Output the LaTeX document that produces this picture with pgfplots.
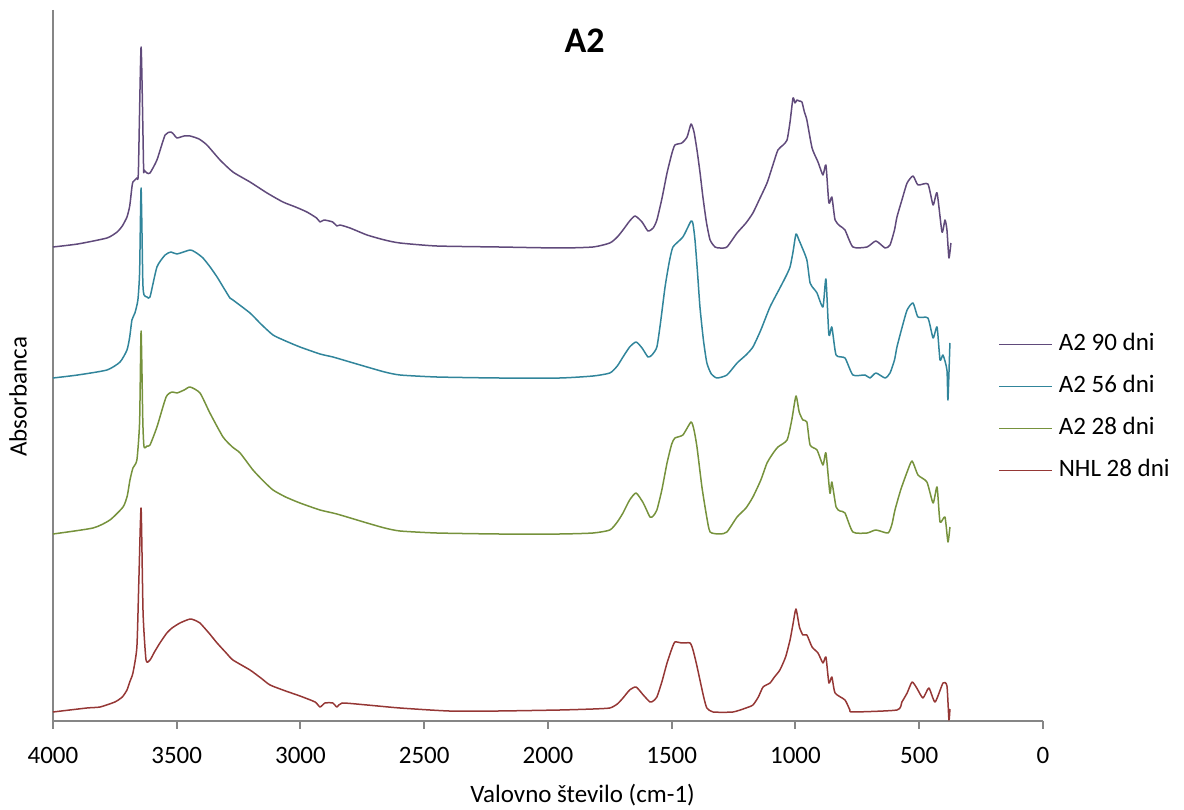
\documentclass[border=0pt]{standalone}
\usepackage{fontspec}
\setmainfont{Carlito}
\usepackage{pgfplots}
\pgfplotsset{compat=1.18}
\definecolor{cPurple}{RGB}{96,74,123}
\definecolor{cTeal}{RGB}{49,133,155}
\definecolor{cGreen}{RGB}{118,146,60}
\definecolor{cRed}{RGB}{149,55,53}
\definecolor{axgray}{RGB}{134,134,134}
\begin{document}
\begin{tikzpicture}[x=1pt,y=1pt]
\useasboundingbox (0,0) rectangle (592,404.5);
\begin{axis}[
  at={(26.5pt,44pt)}, anchor=south west,
  scale only axis, width=495pt, height=355.5pt,
  xmin=0, xmax=4000, x dir=reverse, ymin=-9, ymax=702,
  axis line style={draw=none},
  xtick={0,500,...,4000}, ytick=\empty,
  xtick pos=bottom, tick align=outside, major tick length=4pt,
  tick style={axgray, line width=1pt},
  /pgf/number format/assume math mode=true,
  /pgf/number format/1000 sep={},
  xticklabel style={font=\fontsize{12.5}{15}\selectfont, yshift=-5.5pt},
  xlabel={Valovno število (cm-1)},
  xlabel style={at={(axis description cs:0.535,-0.104)}, anchor=center, font=\fontsize{12.5}{15}\selectfont},
  ylabel={Absorbanca},
  ylabel style={at={(axis description cs:-0.0354,0.456)}, anchor=center, rotate=0, font=\fontsize{12.5}{15}\selectfont},
  title={\textbf{A2}},
  title style={at={(axis description cs:0.537,0.9395)}, anchor=center, font=\fontsize{18}{22}\selectfont},
  legend style={at={(axis description cs:0.9545,0.547)}, anchor=north west, draw=none, fill=none, inner sep=0pt, row sep=9pt,
    font=\fontsize{12.5}{15}\selectfont, nodes={text height=9pt, text depth=3pt, inner ysep=0pt, inner xsep=3pt}},
  legend cell align=left,
  legend image code/.code={\draw[#1] (-3pt,0pt) -- (23.5pt,0pt);},
  every axis plot/.append style={line width=0.75pt, line join=round, smooth, tension=0.35},
  clip=false,
]
\draw[axgray, line width=1pt] (axis description cs:0,1) -- (axis description cs:0,0) -- (axis description cs:1,0);
\addplot[cPurple] table {
4000 465
3900 468
3782 474
3741 480
3720 486
3701 495
3690 506
3681 525
3677 530
3661 534
3655 540
3644 665
3634 545
3632 542
3620 539
3608 539
3580 552
3547 577
3523 580
3510 577
3499 574
3470 576
3446 576
3410 573
3378 567
3325 552
3273 540
3204 530
3135 519
3071 510
3020 505
2974 500
2935 494
2921 490
2905 492
2870 490
2853 486
2840 487
2800 484
2731 477
2660 472
2598 469
2450 466
2200 465
1952 464
1818 465
1750 469
1720 475
1697 482
1670 491
1648 496
1620 490
1596 481
1575 484
1560 492
1540 513
1519 539
1500 558
1487 567
1459 569
1438 575
1422 588
1410 580
1398 562
1386 540
1374 515
1360 490
1345 472
1325 465
1305 464
1277 465
1236 479
1200 489
1172 499
1145 513
1115 529
1090 548
1071 562
1050 567
1034 572
1022 590
1010 614
1002 609
994 612
985 611
974 610
964 600
954 592
933 564
909 550
889 537
877 547
865 509
853 515
840 492
820 486
800 482
768 465
711 465
675 471
638 464
618 467
600 482
590 495
570 512
549 529
525 536
505 527
465 528
444 507
428 519
408 480
396 492
388 482
380 454
372 469
};
\addlegendentry{A2 90 dni}
\addplot[cTeal] table {
4000 334
3900 337
3782 342
3729 350
3701 362
3690 375
3681 392
3669 399
3657 412
3650 440
3644 524
3637 430
3632 417
3620 415
3608 415
3580 445
3547 457
3523 460
3499 458
3446 462
3420 459
3394 454
3365 445
3337 435
3310 424
3285 414
3273 412
3204 399
3160 388
3111 377
3060 371
3002 365
2921 358
2869 355
2800 350
2731 345
2660 340
2598 337
2450 335
2200 334
1952 334
1818 336
1750 339
1720 346
1697 355
1670 365
1644 370
1620 364
1596 355
1580 357
1560 365
1545 390
1527 425
1510 450
1495 465
1455 475
1422 491
1414 488
1406 472
1396 440
1386 405
1372 372
1358 349
1340 338
1317 334
1277 337
1236 349
1200 357
1172 365
1140 382
1103 405
1063 424
1040 435
1022 445
1010 460
998 478
986 472
974 465
954 452
941 429
925 423
913 419
889 405
877 433
865 377
853 385
836 357
800 354
768 337
719 337
699 334
675 339
638 334
618 339
600 352
590 365
570 384
549 402
525 409
505 395
465 394
444 374
428 385
416 352
404 357
388 342
384 312
376 369
};
\addlegendentry{A2 56 dni}
\addplot[cGreen] table {
4000 178
3838 184
3770 192
3717 205
3700 216
3689 232
3677 244
3661 252
3650 290
3644 381
3637 290
3632 265
3620 266
3608 267
3580 285
3543 315
3519 320
3499 319
3470 322
3446 325
3406 319
3366 299
3313 275
3275 265
3244 259
3192 242
3150 231
3111 222
3060 215
3002 209
2921 202
2853 198
2731 189
2660 184
2598 181
2450 179
2200 178
1952 178
1818 179
1750 182
1720 190
1697 199
1670 212
1644 219
1615 209
1588 195
1575 196
1560 202
1540 222
1519 249
1500 268
1487 274
1455 277
1422 290
1410 282
1398 265
1378 225
1360 197
1345 180
1305 178
1277 180
1236 195
1200 204
1172 215
1140 232
1115 249
1090 259
1071 265
1034 272
1015 292
998 316
985 300
970 292
954 290
941 267
913 262
889 247
877 259
861 219
853 230
836 205
820 201
800 199
768 180
711 179
675 182
626 179
610 188
598 202
575 222
549 240
529 251
505 237
469 230
444 209
428 225
416 190
396 195
384 170
376 185
};
\addlegendentry{A2 28 dni}
\addplot[cRed] table {
4000 0
3863 4
3810 5
3750 10
3720 15
3701 22
3690 30
3677 39
3661 65
3653 132
3644 204
3636 99
3624 52
3608 52
3590 60
3568 69
3540 79
3519 84
3487 89
3446 93
3420 91
3406 89
3370 79
3337 69
3300 59
3273 52
3204 42
3160 34
3123 27
3060 21
3002 16
2941 10
2921 5
2901 9
2869 9
2853 5
2832 9
2731 7
2598 4
2400 1
2200 1
1952 2
1818 3
1750 4
1720 8
1697 14
1670 22
1644 25
1615 17
1588 10
1575 11
1560 15
1540 30
1519 49
1500 63
1487 70
1459 69
1426 69
1414 62
1400 48
1386 32
1370 14
1358 4
1333 0
1253 0
1200 4
1172 7
1150 15
1131 25
1103 29
1085 35
1063 42
1040 55
1022 72
1010 88
998 103
984 85
970 77
954 77
933 65
909 59
889 49
877 55
865 29
853 35
840 19
800 12
780 2
768 0
590 2
570 10
549 19
529 30
510 24
485 14
461 24
436 10
404 29
388 26
380 -8
376 3
};
\addlegendentry{NHL 28 dni}
\end{axis}
\end{tikzpicture}
\end{document}
